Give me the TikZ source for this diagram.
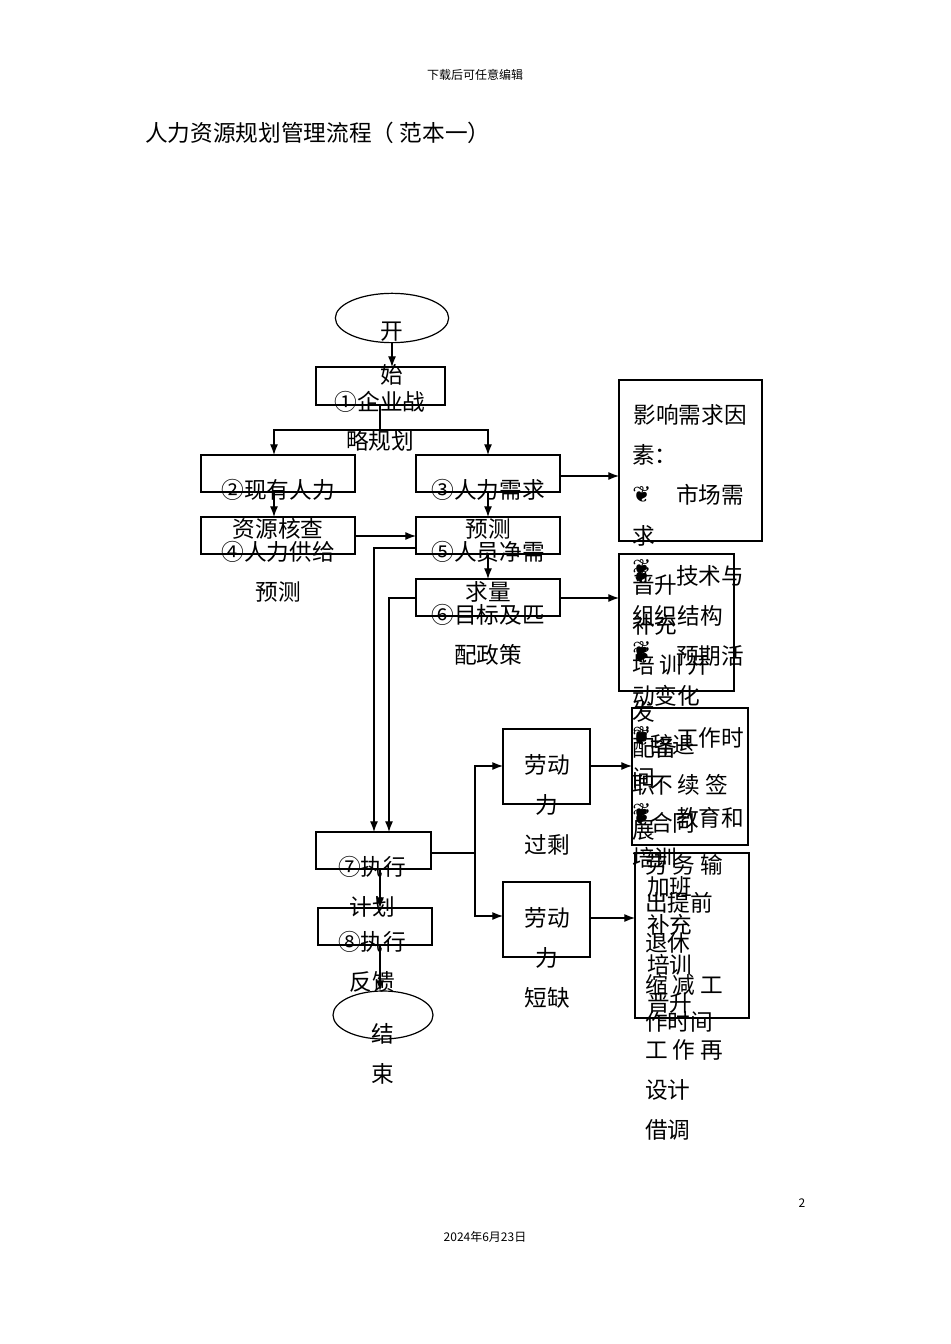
\documentclass[tikz,border=0pt]{standalone}
\usepackage{fontspec}
\setmainfont{Noto Sans CJK SC}
\newfontfamily\symf{DejaVu Sans}
\usetikzlibrary{shapes.geometric,arrows.meta}
\newcommand{\mysym}{{\symf ❦}}
\begin{document}
\begin{tikzpicture}[x=0.75pt,y=-0.75pt,
  bx/.style={draw,line width=0.9pt},
  t/.style={font=\fontsize{17}{17}\selectfont,inner sep=0pt},
  tl/.style={t,anchor=west},
  ar/.style={-{Latex[length=8pt,width=6pt]},line width=0.9pt},
  ln/.style={line width=0.9pt}]
\useasboundingbox (0,0) rectangle (950,1344);
\node[t,font=\fontsize{9}{9}\selectfont] (hd) at (475,75) {下载后可任意编辑};
\node[t,anchor=west,font=\fontsize{17}{17}\selectfont] (ti) at (145,133) {人力资源规划管理流程（ 范本一）};
% start
\node[ellipse,draw,line width=0.9pt,minimum width=85pt,minimum height=37pt,inner sep=0pt] (st) at (392,318) {};
\node[t] (st1) at (392,332) {开};
\node[t] (st2) at (392,375) {始};
\draw[bx] (316,367) rectangle (445,405); \coordinate (b1) at (380,405);
\node[t] at (380,402) {①企业战}; \node[t] at (380,441) {略规划};
\coordinate (sb) at (392,343); \coordinate (b1t) at (392,367);
\draw[ar] (sb) -- (b1t);
\coordinate (j1) at (380,430); \coordinate (b2t) at (274,455); \coordinate (b3t) at (488,455);
\draw[ln] (b1) -- (j1);
\draw[ar] (j1) -| (b2t);
\draw[ar] (j1) -| (b3t);
\draw[bx] (201,455) rectangle (355,492);
\node[t] at (278,490) {②现有人力}; \node[t] at (278,529) {资源核查};
\draw[bx] (416,455) rectangle (560,492);
\node[t] at (488,490) {③人力需求}; \node[t] at (488,529) {预测};
\coordinate (b3r) at (560,476); \coordinate (ibl) at (619,476);
\draw[ar] (b3r) -- (ibl);
% influence box
\draw[bx] (619,380) rectangle (762,541);
\node[t] at (690,415) {影响需求因};
\node[tl] at (632,455) {素：};
\node[tl] at (632,495) {\mysym}; \node[tl] at (676,495) {市场需};
\node[tl] at (632,536) {求};
\node[tl] at (632,576) {\mysym}; \node[tl] at (676,576) {技术与};
\node[tl] at (632,616) {组织结构};
\node[tl] at (632,656) {\mysym}; \node[tl] at (676,656) {预期活};
\node[tl] at (632,696) {动变化};
\node[tl] at (632,738) {\mysym}; \node[tl] at (676,738) {工作时};
\node[tl] at (632,778) {间};
\node[tl] at (632,818) {\mysym}; \node[tl] at (676,818) {教育和};
\node[tl] at (632,858) {培训};
% 4,5,6
\coordinate (b2b) at (274,492); \coordinate (b4t) at (274,517);
\draw[ar] (b2b) -- (b4t);
\draw[bx] (201,517) rectangle (355,554);
\node[t] at (278,552) {④人力供给}; \node[t] at (278,592) {预测};
\draw[bx] (416,517) rectangle (560,554);
\node[t] at (488,552) {⑤人员净需}; \node[t] at (488,592) {求量};
\coordinate (b3b) at (488,492); \coordinate (b5t) at (488,517);
\draw[ar] (b3b) -- (b5t);
\coordinate (b4r) at (355,536); \coordinate (b5l) at (416,536);
\draw[ar] (b4r) -- (b5l);
\coordinate (b5b) at (488,554); \coordinate (b6t) at (488,579);
\draw[ar] (b5b) -- (b6t);
\draw[bx] (416,579) rectangle (560,616);
\node[t] at (488,615) {⑥目标及匹}; \node[t] at (488,655) {配政策};
\coordinate (b6r) at (560,598); \coordinate (p1l) at (619,598);
\draw[ar] (b6r) -- (p1l);
% policy box 1
\draw[bx] (619,554) rectangle (734,691);
\node[tl] at (632,568) {\mysym};
\node[tl] at (632,585) {晋升};
\node[tl] at (632,625) {补充};
\node[tl] at (632,650) {\mysym};
\node[tl] at (632,665) {培 训 开};
\node[tl] at (632,712) {发};
\node[tl] at (632,735) {\mysym};
\node[tl] at (632,748) {配备};
\node[tl] at (632,785) {职};
\node[tl] at (632,812) {\mysym};
\node[tl] at (632,830) {展};
% surplus box
\draw[bx] (632,708) rectangle (748,845);
\node[tl] at (650,745) {辞退};
\node[tl] at (650,785) {不 续 签};
\node[tl] at (650,823) {合同};
\node[tl] at (645,865) {劳 务 输};
\node[tl] at (645,903) {出提前};
\node[tl] at (645,943) {退休};
\node[tl] at (645,985) {缩 减 工};
\node[tl] at (645,1022) {作时间};
\node[tl] at (645,1050) {工 作 再};
\node[tl] at (645,1090) {设计};
\node[tl] at (645,1130) {借调};
% shortage box
\draw[bx] (635,853) rectangle (749,1018);
\node[tl] at (647,887) {加班};
\node[tl] at (647,925) {补充};
\node[tl] at (647,965) {培训};
\node[tl] at (647,1003) {晋升};
% down lines
\coordinate (c5) at (416,548); \coordinate (b7a) at (374,832);
\coordinate (c6) at (416,598); \coordinate (b7b) at (389,832);
\draw[ar] (c5) -| (b7a);
\draw[ar] (c6) -| (b7b);
\draw[bx] (316,832) rectangle (431,869);
\node[t] at (372,867) {⑦执行}; \node[t] at (372,907) {计划};
\draw[bx] (318,908) rectangle (432,945);
\node[t] at (372,942) {⑧执行}; \node[t] at (372,982) {反馈};
\coordinate (b7d) at (380,869); \coordinate (b8t) at (380,908);
\draw[ar] (b7d) -- (b8t);
\node[ellipse,draw,line width=0.9pt,minimum width=75pt,minimum height=36pt,inner sep=0pt] (en) at (383,1015) {};
\coordinate (b8d) at (380,945); \coordinate (ent) at (380,991);
\draw[ar] (b8d) -- (ent);
\node[t] at (383,1034) {结}; \node[t] at (383,1074) {束};
% labour
\coordinate (b7r) at (431,853); \coordinate (jj) at (475,853);
\coordinate (s1) at (503,766); \coordinate (s2) at (503,916);
\draw[ln] (b7r) -- (jj);
\draw[ar] (jj) |- (s1);
\draw[ar] (jj) |- (s2);
\draw[bx] (503,729) rectangle (590,804);
\node[t] at (547,765) {劳动}; \node[t] at (547,805) {力}; \node[t] at (547,845) {过剩};
\draw[bx] (503,882) rectangle (590,957);
\node[t] at (547,918) {劳动}; \node[t] at (547,958) {力}; \node[t] at (547,998) {短缺};
\coordinate (l1r) at (590,766); \coordinate (l1t) at (632,766);
\coordinate (l2r) at (590,918); \coordinate (l2t) at (635,918);
\draw[ar] (l1r) -- (l1t);
\draw[ar] (l2r) -- (l2t);
\node[t,font=\fontsize{9}{9}\selectfont] at (802,1203) {2};
\node[t,font=\fontsize{9}{9}\selectfont] at (485,1237) {2024年6月23日};
\end{tikzpicture}
\end{document}
